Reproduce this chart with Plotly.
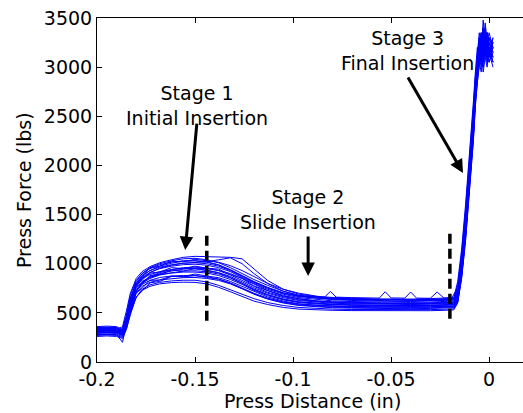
import plotly.graph_objects as go

# ---------------- data ----------------
X_GRID = [-0.200, -0.195, -0.190, -0.187, -0.185, -0.183, -0.180, -0.177, -0.173, -0.168, -0.162, -0.156, -0.150, -0.144,
          -0.138, -0.132, -0.126, -0.120, -0.113, -0.105, -0.097, -0.088, -0.080, -0.070, -0.060, -0.050, -0.040, -0.030, -0.023, -0.018,
          -0.016, -0.014, -0.012, -0.010, -0.008, -0.007, -0.006, -0.005, -0.004, -0.003, -0.002, -0.001, 0.000, 0.002]

F01 = [330, 335, 330, 360, 520, 700, 850, 920, 970, 1010, 1040, 1065, 1075, 1070,
       1070, 1065, 1050, 950, 830, 740, 690, 665, 655, 648, 642, 640, 640, 645, 650, 655,
       820, 1150, 1600, 2100, 2650, 2950, 3200, 3050, 3300, 3150, 3350, 3200, 3300, 3250]
F02 = [300, 305, 300, 320, 450, 640, 820, 900, 960, 1000, 1030, 1050, 1055, 1040,
       1010, 960, 900, 840, 780, 720, 680, 660, 645, 640, 635, 632, 630, 634, 640, 645,
       760, 1080, 1500, 2000, 2560, 2880, 3100, 3300, 3150, 3400, 3250, 3350, 3150, 3300]
F03 = [350, 355, 350, 300, 420, 620, 800, 880, 955, 975, 1025, 1020, 1045, 1030,
       1015, 980, 930, 870, 800, 740, 700, 670, 650, 642, 636, 630, 628, 630, 634, 640,
       720, 1020, 1450, 1950, 2500, 2850, 3050, 3250, 3350, 3200, 3450, 3300, 3100, 3250]
F04 = [280, 285, 280, 200, 380, 600, 780, 870, 930, 975, 1005, 1025, 1030, 1020,
       990, 940, 880, 820, 760, 705, 670, 648, 635, 626, 620, 618, 616, 620, 625, 630,
       700, 980, 1400, 1900, 2450, 2800, 3000, 3200, 3100, 3350, 3150, 3300, 3200, 3050]
F05 = [320, 325, 320, 340, 480, 680, 830, 900, 950, 990, 1015, 1030, 1030, 1015,
       985, 935, 875, 815, 755, 700, 665, 648, 640, 638, 636, 634, 632, 636, 640, 645,
       780, 1100, 1550, 2050, 2600, 2900, 3150, 3350, 3200, 3400, 3250, 3100, 3300, 3200]
F06 = [310, 315, 310, 330, 430, 620, 780, 860, 910, 950, 975, 990, 995, 985,
       960, 920, 860, 800, 740, 690, 655, 635, 622, 615, 610, 608, 606, 610, 615, 620,
       700, 1000, 1420, 1900, 2450, 2800, 3050, 3250, 3100, 3300, 3150, 3350, 3250, 3150]
F07 = [340, 345, 340, 320, 400, 580, 780, 830, 905, 915, 960, 950, 975, 955,
       945, 890, 850, 775, 725, 670, 645, 620, 612, 606, 600, 598, 596, 600, 605, 610,
       680, 960, 1380, 1850, 2400, 2750, 3000, 3150, 3300, 3100, 3250, 3050, 3200, 3100]
F08 = [290, 295, 290, 270, 360, 540, 720, 810, 870, 910, 940, 960, 965, 955,
       930, 885, 830, 770, 710, 665, 632, 615, 604, 598, 594, 592, 590, 594, 598, 602,
       660, 930, 1350, 1850, 2380, 2720, 2950, 3150, 3050, 3250, 3100, 3300, 3150, 3250]
F09 = [360, 365, 360, 330, 460, 650, 790, 850, 890, 920, 940, 950, 948, 935,
       910, 870, 815, 755, 700, 655, 625, 608, 598, 592, 588, 586, 585, 588, 592, 596,
       690, 980, 1400, 1880, 2420, 2760, 3000, 3200, 3350, 3200, 3400, 3250, 3100, 3200]
F10 = [270, 275, 270, 250, 340, 500, 720, 790, 880, 890, 935, 925, 950, 930,
       905, 860, 800, 740, 685, 640, 610, 595, 586, 580, 576, 574, 572, 576, 580, 584,
       640, 900, 1300, 1800, 2350, 2700, 2950, 3100, 3250, 3050, 3200, 3350, 3150, 3050]
F11 = [330, 330, 330, 300, 420, 600, 750, 820, 860, 890, 910, 925, 928, 918,
       895, 855, 800, 740, 685, 640, 612, 596, 588, 582, 578, 576, 574, 578, 582, 586,
       680, 960, 1380, 1860, 2400, 2750, 3000, 3200, 3100, 3300, 3150, 3250, 3350, 3200]
F12 = [300, 300, 300, 280, 380, 560, 720, 800, 850, 885, 905, 915, 915, 905,
       880, 840, 790, 730, 675, 632, 604, 590, 582, 577, 573, 570, 568, 572, 576, 580,
       650, 920, 1330, 1820, 2360, 2700, 2950, 3150, 3050, 3250, 3350, 3150, 3250, 3100]
F13 = [340, 340, 340, 310, 410, 580, 720, 790, 830, 860, 875, 880, 878, 868,
       845, 805, 755, 700, 650, 612, 588, 574, 566, 562, 558, 556, 555, 558, 562, 566,
       640, 900, 1300, 1780, 2330, 2680, 2900, 3100, 3250, 3050, 3200, 3100, 3300, 3150]
F14 = [280, 280, 280, 260, 350, 520, 700, 750, 830, 835, 875, 865, 880, 860,
       842, 800, 748, 695, 645, 606, 580, 566, 558, 554, 551, 549, 548, 551, 555, 560,
       620, 880, 1280, 1760, 2300, 2650, 2900, 3050, 3200, 3000, 3150, 3300, 3100, 3200]
F15 = [350, 350, 350, 320, 420, 560, 700, 770, 810, 835, 850, 858, 860, 850,
       830, 795, 745, 690, 640, 600, 575, 560, 552, 548, 545, 543, 542, 545, 549, 553,
       630, 890, 1290, 1770, 2310, 2670, 2900, 3100, 3000, 3250, 3100, 3200, 3050, 3150]
F16 = [300, 300, 300, 270, 360, 500, 660, 740, 785, 810, 825, 832, 832, 815,
       780, 735, 690, 645, 605, 575, 555, 545, 538, 534, 532, 531, 530, 533, 537, 541,
       610, 860, 1250, 1730, 2270, 2620, 2880, 3050, 2950, 3150, 3250, 3050, 3150, 3000]
F17 = [320, 320, 320, 290, 380, 520, 660, 730, 770, 795, 808, 812, 810, 795,
       760, 715, 665, 620, 585, 555, 538, 530, 526, 523, 521, 520, 519, 522, 526, 530,
       600, 850, 1230, 1710, 2250, 2600, 2850, 3000, 3150, 2950, 3100, 3000, 3200, 3050]
F18 = [260, 265, 260, 240, 330, 480, 660, 720, 805, 820, 870, 870, 895, 875,
       858, 820, 770, 715, 662, 620, 592, 578, 570, 566, 563, 561, 560, 563, 567, 571,
       630, 890, 1300, 1780, 2330, 2680, 2920, 3100, 3250, 3100, 3300, 3150, 3050, 3200]
F19 = [310, 315, 310, 290, 390, 560, 730, 810, 860, 900, 925, 945, 955, 950,
       932, 900, 850, 790, 728, 678, 642, 622, 610, 603, 598, 596, 594, 597, 601, 606,
       670, 950, 1370, 1850, 2400, 2750, 3000, 3200, 3350, 3150, 3300, 3200, 3100, 3300]
F20 = [300, 300, 300, 280, 400, 600, 760, 850, 910, 955, 985, 1005, 1015, 1020,
       1040, 1060, 1000, 900, 800, 720, 675, 652, 640, 632, 626, 622, 620, 624, 628, 632,
       740, 1050, 1480, 1980, 2520, 2850, 3080, 3280, 3150, 3380, 3200, 3300, 3150, 3250]

# one curve with small spikes along the slide-insertion plateau
BUMPY_X = [-0.200, -0.195, -0.190, -0.187, -0.185, -0.183, -0.180, -0.177, -0.173, -0.168, -0.162, -0.156, -0.150, -0.144,
           -0.138, -0.132, -0.126, -0.120, -0.113, -0.105, -0.097,
           -0.088, -0.084, -0.081, -0.078, -0.070, -0.060, -0.056, -0.053, -0.050, -0.043, -0.040, -0.037, -0.030, -0.0265, -0.023, -0.019,
           -0.016, -0.014, -0.012, -0.010, -0.008, -0.007, -0.006, -0.005, -0.004, -0.003, -0.002, -0.001, 0.000, 0.002]
BUMPY_Y = [310, 315, 310, 290, 440, 640, 800, 880, 930, 965, 990, 1005, 1010, 1000,
           975, 930, 870, 810, 750, 700, 672,
           660, 658, 718, 660, 655, 652, 650, 715, 652, 650, 712, 650, 648, 712, 650, 652,
           760, 1060, 1480, 1980, 2520, 2850, 3100, 3300, 3150, 3480, 3250, 3350, 3200, 3100]

CURVES = [F01, F02, F03, F04, F05, F06, F07, F08, F09, F10,
          F11, F12, F13, F14, F15, F16, F17, F18, F19, F20]

# stage boundary markers (dashed)
DASH_X = [-0.144, -0.020]
DASH_Y0 = [420, 440]
DASH_Y1 = [1310, 1310]

# stage labels
LABEL_TEXT = ["Stage 1<br>Initial Insertion", "Stage 2<br>Slide Insertion", "Stage 3<br>Final Insertion"]
LABEL_X = [-0.149, -0.0923, -0.0418]
LABEL_Y = [2614, 1556, 3174]

# arrows (tail -> tip)
ARROW_TAIL_X = [-0.149, -0.0923, -0.0418]
ARROW_TAIL_Y = [2441, 1292, 2909]
ARROW_TIP_X = [-0.155, -0.0923, -0.0133]
ARROW_TIP_Y = [1139, 875, 1922]

X_TICKS = [-0.2, -0.15, -0.1, -0.05, 0]
X_TICK_TEXT = ["-0.2", "-0.15", "-0.1", "-0.05", "0"]
Y_TICKS = [0, 500, 1000, 1500, 2000, 2500, 3000, 3500]

FONT = "DejaVu Sans"
FS = 19
BLUE = "#0000ff"

fig = go.Figure()
for ys in CURVES:
    fig.add_trace(go.Scatter(x=X_GRID, y=ys, mode="lines",
                             line=dict(color=BLUE, width=1), hoverinfo="skip", showlegend=False))
fig.add_trace(go.Scatter(x=BUMPY_X, y=BUMPY_Y, mode="lines",
                         line=dict(color=BLUE, width=1), hoverinfo="skip", showlegend=False))

for dx, y0, y1 in zip(DASH_X, DASH_Y0, DASH_Y1):
    fig.add_trace(go.Scatter(x=[dx, dx], y=[y0, y1], mode="lines",
                             line=dict(color="black", width=3.5, dash="10px,5px"),
                             hoverinfo="skip", showlegend=False))

annotations = []
for t, lx, ly in zip(LABEL_TEXT, LABEL_X, LABEL_Y):
    annotations.append(dict(x=lx, y=ly, xref="x", yref="y", text=t, showarrow=False,
                            font=dict(family=FONT, size=FS, color="black"),
                            xanchor="center", yanchor="middle", align="center"))
for tx, ty, hx, hy in zip(ARROW_TAIL_X, ARROW_TAIL_Y, ARROW_TIP_X, ARROW_TIP_Y):
    annotations.append(dict(x=hx, y=hy, xref="x", yref="y", ax=tx, ay=ty, axref="x", ayref="y",
                            text="", showarrow=True, arrowhead=2, arrowsize=0.9, arrowwidth=3,
                            arrowcolor="black", standoff=0, startstandoff=0))

# axis titles
annotations.append(dict(x=(312 - 97) / 426, y=(362 - 401) / 344, xref="paper", yref="paper",
                        text="Press Distance (in)", showarrow=False,
                        font=dict(family=FONT, size=FS, color="black"),
                        xanchor="center", yanchor="middle"))
annotations.append(dict(x=(24 - 97) / 426, y=0.5, xref="paper", yref="paper",
                        text="Press Force (lbs)", showarrow=False, textangle=-90,
                        font=dict(family=FONT, size=FS, color="black"),
                        xanchor="center", yanchor="middle"))

fig.update_layout(
    width=523, height=413,
    margin=dict(l=97, r=0, t=18, b=51, pad=0),
    paper_bgcolor="white", plot_bgcolor="white",
    font=dict(family=FONT, size=FS, color="black"),
    showlegend=False,
    annotations=annotations,
    xaxis=dict(range=[-0.2, 0.0173], tickvals=X_TICKS, ticktext=X_TICK_TEXT,
               ticks="inside", ticklen=5, tickwidth=1, tickcolor="black",
               showline=True, linecolor="black", linewidth=1, mirror="ticks",
               showgrid=False, zeroline=False,
               tickfont=dict(family=FONT, size=FS, color="black")),
    yaxis=dict(range=[0, 3500], tickvals=Y_TICKS,
               ticks="inside", ticklen=5, tickwidth=1, tickcolor="black",
               showline=True, linecolor="black", linewidth=1, mirror=False,
               showgrid=False, zeroline=False,
               tickfont=dict(family=FONT, size=FS, color="black")),
)

fig.write_html("out.html")
